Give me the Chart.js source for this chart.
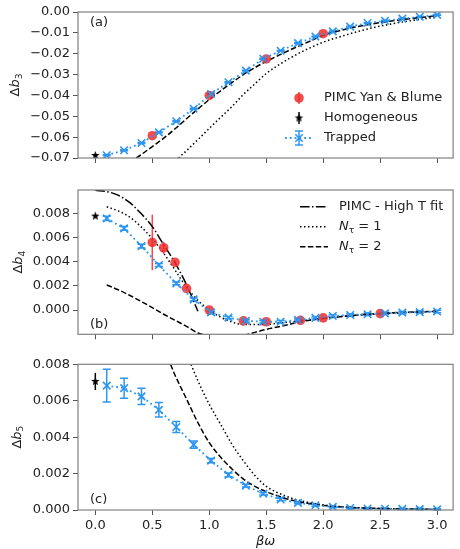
<!DOCTYPE html>
<html>
<head>
<meta charset="utf-8">
<script src="https://cdn.jsdelivr.net/npm/chart.js@4.4.1/dist/chart.umd.min.js"></script>
<style>
  html, body { margin:0; padding:0; background:#fff; width:460px; height:549px; overflow:hidden; }
  .panel { position:absolute; left:0; width:460px; }
</style>
</head>
<body>
<div class="panel" style="top:0"><canvas id="cA" width="460" height="170"></canvas></div>
<div class="panel" style="top:176px"><canvas id="cB" width="460" height="170"></canvas></div>
<div class="panel" style="top:350px"><canvas id="cC" width="460" height="199"></canvas></div>
<script>
/* ── Données ────────────────────────────────────────────────────────────── */
const xTicks  = [0, 0.5, 1.0, 1.5, 2.0, 2.5, 3.0];
const yTicksA = [0, -0.01, -0.02, -0.03, -0.04, -0.05, -0.06, -0.07];
const yTicksB = [0, 0.002, 0.004, 0.006, 0.008];
const yTicksC = [0, 0.002, 0.004, 0.006, 0.008];

// Trapped (même grille pour les 3 panneaux)
const xTrap = [0.1, 0.2526, 0.4053, 0.5579, 0.7105, 0.8632, 1.0158, 1.1684, 1.3211, 1.4737,
               1.6263, 1.7789, 1.9316, 2.0842, 2.2368, 2.3895, 2.5421, 2.6947, 2.8474, 3.0];
const b3Trap    = [-0.0687, -0.0663, -0.0628, -0.0577, -0.0524, -0.0464, -0.0393, -0.0337, -0.0281, -0.0224,
                   -0.0186, -0.0149, -0.0118, -0.0093, -0.0070, -0.0053, -0.0042, -0.0032, -0.0023, -0.0014];
const b3TrapErr = [0.0002, 0.0002, 0.0002, 0.0002, 0.0002, 0.0002, 0.0002, 0.0002, 0.0002, 0.0002,
                   0.0002, 0.0002, 0.0002, 0.0002, 0.0002, 0.0002, 0.0002, 0.0002, 0.0002, 0.0002];
const b4Trap    = [0.00758, 0.00675, 0.00529, 0.00372, 0.00220, 0.00088, -0.00020, -0.00063, -0.00090, -0.00097,
                   -0.00097, -0.00082, -0.00065, -0.00050, -0.00041, -0.00035, -0.00028, -0.00022, -0.00017, -0.00012];
const b4TrapErr = [0.00018, 0.00016, 0.00015, 0.00013, 0.00012, 0.00011, 0.0001, 0.0001, 0.0001, 0.0001,
                   0.0001, 0.0001, 0.0001, 0.0001, 0.0001, 0.0001, 0.0001, 0.0001, 0.0001, 0.0001];
const b5Trap    = [0.00683, 0.00669, 0.00624, 0.00550, 0.00456, 0.00359, 0.00271, 0.00193, 0.00134, 0.00089,
                   0.00058, 0.00039, 0.00026, 0.00017, 0.00011, 0.00008, 0.00007, 0.00006, 0.00005, 0.00004];
const b5TrapErr = [0.00090, 0.00055, 0.00045, 0.00040, 0.00030, 0.00020, 0.00012, 0.00010, 0.00008, 0.00007,
                   0.00006, 0.00005, 0.00005, 0.00004, 0.00004, 0.00004, 0.00004, 0.00004, 0.00004, 0.00004];

// PIMC Yan & Blume
const xYanA = [0.5, 1.0, 1.5, 2.0];
const b3Yan = [-0.0593, -0.0400, -0.0225, -0.0104];
const xYanB = [0.5, 0.6, 0.7, 0.8, 1.0, 1.3, 1.5, 1.8, 2.0, 2.5];
const b4Yan    = [0.00559, 0.00515, 0.00394, 0.00179, 0.0, -0.00090, -0.00097, -0.00085, -0.00065, -0.00030];
const b4YanErr = [0.0023, 0.0005, 0.0002, 0.0001, 0.0001, 0.0001, 0.0001, 0.0001, 0.0001, 0.0001];

// Homogeneous
const xHom = [0];
const b3Hom = [-0.0688], b3HomErr = [0.0002];
const b4Hom = [0.00777], b4HomErr = [0.00005];
const b5Hom = [0.00706], b5HomErr = [0.00047];

// N_tau = 2 (tirets)
const xN2A = [0.36, 0.4, 0.5, 0.6, 0.7, 0.8, 0.9, 1.0, 1.1, 1.2, 1.3, 1.4, 1.5, 1.6, 1.7, 1.8, 1.9, 2.0, 2.2, 2.4, 2.6, 2.8, 3.0];
const b3N2 = [-0.0700, -0.0685, -0.0645, -0.0605, -0.0560, -0.0512, -0.0465, -0.0420, -0.0378, -0.0338, -0.0300,
              -0.0267, -0.0237, -0.0210, -0.0184, -0.0160, -0.0136, -0.0112, -0.0082, -0.0060, -0.0043, -0.0030, -0.0018];
const xN2B = [0.1, 0.2, 0.3, 0.4, 0.5, 0.6, 0.7, 0.8, 0.9, 1.0, 1.1, 1.2, 1.3, 1.4, 1.5, 1.6, 1.7, 1.8, 2.0, 2.2, 2.5, 2.8, 3.0];
const b4N2 = [0.00207, 0.00168, 0.00122, 0.00072, 0.00020, -0.00035, -0.00085, -0.00135, -0.00190, -0.00215, -0.00230,
              -0.00230, -0.00210, -0.00185, -0.00160, -0.00140, -0.00120, -0.00097, -0.00070, -0.00050, -0.00028, -0.00016, -0.00011];
const xN2C = [0.66, 0.7, 0.8, 0.9, 1.0, 1.1, 1.2, 1.3, 1.4, 1.5, 1.6, 1.7, 1.8, 1.9, 2.0, 2.2, 2.4, 2.6, 2.8, 3.0];
const b5N2 = [0.0080, 0.0074, 0.0061, 0.0048, 0.0037, 0.0029, 0.00225, 0.0017, 0.0013, 0.0010,
              0.00078, 0.00058, 0.00044, 0.00033, 0.00025, 0.00015, 0.00010, 0.00007, 0.00005, 0.00004];

// N_tau = 1 (pointillés)
const xN1A = [0.73, 0.8, 0.9, 1.0, 1.1, 1.2, 1.3, 1.4, 1.5, 1.6, 1.7, 1.8, 1.9, 2.0, 2.2, 2.4, 2.6, 2.8, 3.0];
const b3N1 = [-0.0700, -0.0665, -0.0612, -0.0558, -0.0505, -0.0453, -0.0395, -0.0345, -0.0295, -0.0257,
              -0.0224, -0.0194, -0.0168, -0.0145, -0.0110, -0.0080, -0.0057, -0.0039, -0.0024];
const xN1B = [0.1, 0.2, 0.3, 0.4, 0.5, 0.6, 0.7, 0.8, 0.9, 1.0, 1.1, 1.2, 1.3, 1.4, 1.5, 1.6, 1.8, 2.0, 2.2, 2.5, 2.8, 3.0];
const b4N1 = [0.00854, 0.0082, 0.0077, 0.0069, 0.0059, 0.0047, 0.0033, 0.0019, 0.0008, 0.0000, -0.0006,
              -0.0010, -0.0012, -0.0012, -0.0012, -0.0011, -0.0009, -0.0007, -0.0005, -0.00032, -0.00018, -0.00012];
const xN1C = [0.84, 0.9, 1.0, 1.1, 1.2, 1.3, 1.4, 1.5, 1.6, 1.7, 1.8, 1.9, 2.0, 2.2, 2.4, 2.6, 2.8, 3.0];
const b5N1 = [0.0080, 0.0071, 0.0058, 0.0047, 0.0036, 0.0027, 0.0019, 0.0013, 0.00095, 0.00070,
              0.00051, 0.00038, 0.00028, 0.00016, 0.00010, 0.00007, 0.00005, 0.00004];

// PIMC - High T fit (tiret-point)
const xFit = [0, 0.1, 0.2, 0.3, 0.4, 0.5, 0.6, 0.7, 0.8, 0.9];
const b4Fit = [0.0099, 0.0098, 0.0095, 0.0089, 0.0080, 0.0069, 0.0054, 0.0039, 0.0021, -0.0001];

/* ── Style ──────────────────────────────────────────────────────────────── */
const FONT  = 'DejaVu Sans';
const BLUE  = 'rgb(45,150,240)';
const RED   = 'rgba(240,45,45,0.85)';
const SPINE = '#808080';
const X_MIN = -0.152, X_MAX = 3.14;

Chart.defaults.font.family = FONT;
Chart.defaults.font.size = 13;
Chart.defaults.color = '#222';

const pts = (xs, ys) => xs.map((x, i) => ({ x, y: ys[i] }));

function starImg(r) {
  const s = Math.ceil(r * 2 + 2);
  const c = document.createElement('canvas');
  c.width = c.height = s;
  const g = c.getContext('2d');
  g.beginPath();
  for (let i = 0; i < 10; i++) {
    const a = -Math.PI / 2 + i * Math.PI / 5, rr = i % 2 ? r * 0.42 : r;
    g.lineTo(s / 2 + rr * Math.cos(a), s / 2 + rr * Math.sin(a));
  }
  g.closePath();
  g.fillStyle = '#000';
  g.fill();
  return c;
}
const STAR = starImg(4.5);

const lineDs = (xs, ys, dash, order) => ({
  data: pts(xs, ys), showLine: true, borderColor: '#000', borderWidth: 1.5,
  borderDash: dash, pointRadius: 0, cubicInterpolationMode: 'monotone', order,
});
const trapDs = (ys, err, cap) => ({
  data: pts(xTrap, ys), showLine: true, borderColor: BLUE, borderWidth: 1.8, borderDash: [1.8, 3],
  pointStyle: 'crossRot', pointRadius: 5.3, pointBorderWidth: 1.6, pointBorderColor: BLUE,
  pointBackgroundColor: BLUE, errY: err, errColor: BLUE, cap, order: 2,
});
const yanDs = (xs, ys, err) => ({
  data: pts(xs, ys), pointStyle: 'circle', pointRadius: 4.8, pointBorderWidth: 0,
  pointBackgroundColor: RED, errY: err, errColor: RED, cap: 0, order: 3,
});
const homDs = (ys, err) => ({
  data: pts(xHom, ys), pointStyle: STAR, errY: err, errColor: '#000', cap: 0, order: 1,
});

/* ── Plugins : barres d'erreur, cadre, textes ───────────────────────────── */
const errPlugin = {
  id: 'errbars',
  beforeDatasetsDraw(chart) {
    const { ctx, scales: { x, y } } = chart;
    chart.data.datasets.forEach(ds => {
      if (!ds.errY) return;
      ctx.save();
      ctx.strokeStyle = ds.errColor;
      ctx.lineWidth = 1.5;
      ds.data.forEach((p, i) => {
        const e = ds.errY[i];
        if (!e) return;
        const px = x.getPixelForValue(p.x);
        const y0 = y.getPixelForValue(p.y - e), y1 = y.getPixelForValue(p.y + e);
        ctx.beginPath();
        ctx.moveTo(px, y0); ctx.lineTo(px, y1);
        if (ds.cap) {
          ctx.moveTo(px - ds.cap, y0); ctx.lineTo(px + ds.cap, y0);
          ctx.moveTo(px - ds.cap, y1); ctx.lineTo(px + ds.cap, y1);
        }
        ctx.stroke();
      });
      ctx.restore();
    });
  },
};

const boxPlugin = {
  id: 'box',
  afterDatasetsDraw(chart) {
    const { ctx, chartArea: a } = chart;
    ctx.save();
    ctx.strokeStyle = SPINE;
    ctx.lineWidth = 1.2;
    ctx.strokeRect(a.left, a.top, a.right - a.left, a.bottom - a.top);
    ctx.restore();
  },
};

// texte composé : [{t, it, sub}]
function richWidth(ctx, parts, size) {
  let w = 0;
  parts.forEach(p => {
    ctx.font = `${p.it ? 'italic ' : ''}${p.sub ? size * 0.7 : size}px "${FONT}"`;
    w += ctx.measureText(p.t).width;
  });
  return w;
}
function drawRich(ctx, parts, x, y, size, align) {
  let cx = align === 'center' ? x - richWidth(ctx, parts, size) / 2 : x;
  ctx.textBaseline = 'middle';
  ctx.textAlign = 'left';
  parts.forEach(p => {
    ctx.font = `${p.it ? 'italic ' : ''}${p.sub ? size * 0.7 : size}px "${FONT}"`;
    ctx.fillText(p.t, cx, p.sub ? y + 3.5 : y);
    cx += ctx.measureText(p.t).width;
  });
}

function legendLine(ctx, x0, x1, y, dash) {
  ctx.save();
  ctx.strokeStyle = '#000';
  ctx.lineWidth = 1.5;
  ctx.setLineDash(dash);
  ctx.beginPath(); ctx.moveTo(x0, y); ctx.lineTo(x1, y); ctx.stroke();
  ctx.restore();
}

function textPlugin(opts) {
  return {
    id: 'texts',
    afterDraw(chart) {
      const ctx = chart.ctx;
      const a = chart.chartArea;
      ctx.save();
      ctx.fillStyle = '#222';
      // étiquette du panneau
      drawRich(ctx, [{ t: opts.tag }], 90, opts.tagY, 13);
      // titre de l'axe y, tourné
      ctx.save();
      ctx.translate(opts.ylabX, (a.top + a.bottom) / 2);
      ctx.rotate(-Math.PI / 2);
      drawRich(ctx, [{ t: 'Δ' }, { t: 'b', it: true }, { t: opts.sub, sub: true }], 0, 0, 13, 'center');
      ctx.restore();
      if (opts.extra) opts.extra(ctx, chart);
      ctx.restore();
    },
  };
}

/* ── Légendes ──────────────────────────────────────────────────────────── */
function legendA(ctx) {
  const hx = 299, tx = 324;
  // PIMC Yan & Blume
  ctx.save();
  ctx.strokeStyle = RED; ctx.lineWidth = 1.5;
  ctx.beginPath(); ctx.moveTo(hx, 92); ctx.lineTo(hx, 104); ctx.stroke();
  ctx.fillStyle = RED;
  ctx.beginPath(); ctx.arc(hx, 98, 4.8, 0, Math.PI * 2); ctx.fill();
  // Homogeneous
  ctx.strokeStyle = '#000';
  ctx.beginPath(); ctx.moveTo(hx, 112); ctx.lineTo(hx, 124); ctx.stroke();
  ctx.drawImage(STAR, hx - STAR.width / 2, 118 - STAR.height / 2);
  // Trapped
  ctx.strokeStyle = BLUE; ctx.lineWidth = 1.8;
  ctx.setLineDash([1.8, 3]);
  ctx.beginPath(); ctx.moveTo(285, 138); ctx.lineTo(313, 138); ctx.stroke();
  ctx.setLineDash([]);
  ctx.lineWidth = 1.5;
  ctx.beginPath();
  ctx.moveTo(hx, 131); ctx.lineTo(hx, 145);
  ctx.moveTo(hx - 4, 131); ctx.lineTo(hx + 4, 131);
  ctx.moveTo(hx - 4, 145); ctx.lineTo(hx + 4, 145);
  ctx.moveTo(hx - 3.7, 134.3); ctx.lineTo(hx + 3.7, 141.7);
  ctx.moveTo(hx - 3.7, 141.7); ctx.lineTo(hx + 3.7, 134.3);
  ctx.stroke();
  ctx.restore();
  ctx.fillStyle = '#222';
  drawRich(ctx, [{ t: 'PIMC Yan & Blume' }], tx, 98, 13);
  drawRich(ctx, [{ t: 'Homogeneous' }], tx, 118, 13);
  drawRich(ctx, [{ t: 'Trapped' }], tx, 138, 13);
}

function legendB(ctx) {
  const x0 = 300, x1 = 328, tx = 339;
  const y0 = 206.7 - 176, y1 = 226.7 - 176, y2 = 246.7 - 176;
  legendLine(ctx, x0, x1, y0, [9.6, 2.4, 1.5, 2.4]);
  legendLine(ctx, x0, x1, y1, [1.5, 2.5]);
  legendLine(ctx, x0, x1, y2, [5.5, 2.4]);
  ctx.fillStyle = '#222';
  drawRich(ctx, [{ t: 'PIMC - High T fit' }], tx, y0, 13);
  drawRich(ctx, [{ t: 'N', it: true }, { t: 'τ', sub: true }, { t: ' = 1' }], tx, y1, 13);
  drawRich(ctx, [{ t: 'N', it: true }, { t: 'τ', sub: true }, { t: ' = 2' }], tx, y2, 13);
}

function xTitleC(ctx, chart) {
  const a = chart.chartArea;
  ctx.fillStyle = '#222';
  drawRich(ctx, [{ t: 'βω', it: true }], (a.left + a.right) / 2, 192, 13, 'center');
}

/* ── Construction d'un panneau ─────────────────────────────────────────── */
function makePanel(id, p) {
  const fmt = v => (v < -1e-12 ? '\u2212' : '') + Math.abs(v).toFixed(p.dec);
  return new Chart(document.getElementById(id), {
    type: 'scatter',
    data: { datasets: p.datasets },
    options: {
      responsive: false,
      animation: false,
      layout: { padding: { top: p.top, left: 0, right: 0, bottom: 0 } },
      plugins: { legend: { display: false }, tooltip: { enabled: false } },
      scales: {
        x: {
          type: 'linear', min: X_MIN, max: X_MAX,
          afterBuildTicks: s => { s.ticks = xTicks.map(v => ({ value: v })); },
          afterFit: s => { s.height = p.xH; },
          grid: { drawOnChartArea: false, tickLength: 5, color: '#555' },
          border: { display: false },
          ticks: { display: p.xLabels, padding: 3, callback: v => v.toFixed(1) },
        },
        y: {
          type: 'linear', min: p.yMin, max: p.yMax,
          afterBuildTicks: s => { s.ticks = p.yTicks.map(v => ({ value: v })); },
          afterFit: s => { s.width = 78; },
          grid: { drawOnChartArea: false, tickLength: 5, color: '#555' },
          border: { display: false },
          ticks: { padding: 3, callback: fmt },
        },
      },
    },
    plugins: [errPlugin, boxPlugin, textPlugin(p.text)],
  });
}

makePanel('cA', {
  top: 12, xH: 12, xLabels: false, yMin: -0.07, yMax: 0, yTicks: yTicksA, dec: 2,
  datasets: [
    homDs(b3Hom, b3HomErr),
    trapDs(b3Trap, b3TrapErr, 4),
    yanDs(xYanA, b3Yan, null),
    lineDs(xN2A, b3N2, [5.5, 2.4], 5),
    lineDs(xN1A, b3N1, [1.5, 2.5], 6),
  ],
  text: { tag: '(a)', tagY: 23, sub: '3', ylabX: 16, extra: legendA },
});

makePanel('cB', {
  top: 14, xH: 11.7, xLabels: false, yMin: -0.00201, yMax: 0.00993, yTicks: yTicksB, dec: 3,
  datasets: [
    homDs(b4Hom, b4HomErr),
    trapDs(b4Trap, b4TrapErr, 4),
    yanDs(xYanB, b4Yan, b4YanErr),
    lineDs(xFit, b4Fit, [9.6, 2.4, 1.5, 2.4], 4),
    lineDs(xN2B, b4N2, [5.5, 2.4], 5),
    lineDs(xN1B, b4N1, [1.5, 2.5], 6),
  ],
  text: { tag: '(b)', tagY: 325 - 176, sub: '4', ylabX: 19, extra: legendB },
});

makePanel('cC', {
  top: 14.3, xH: 39, xLabels: true, yMin: 0, yMax: 0.008, yTicks: yTicksC, dec: 3,
  datasets: [
    homDs(b5Hom, b5HomErr),
    trapDs(b5Trap, b5TrapErr, 4),
    lineDs(xN2C, b5N2, [5.5, 2.4], 5),
    lineDs(xN1C, b5N1, [1.5, 2.5], 6),
  ],
  text: { tag: '(c)', tagY: 500 - 350, sub: '5', ylabX: 17.5, extra: xTitleC },
});
</script>
</body>
</html>
